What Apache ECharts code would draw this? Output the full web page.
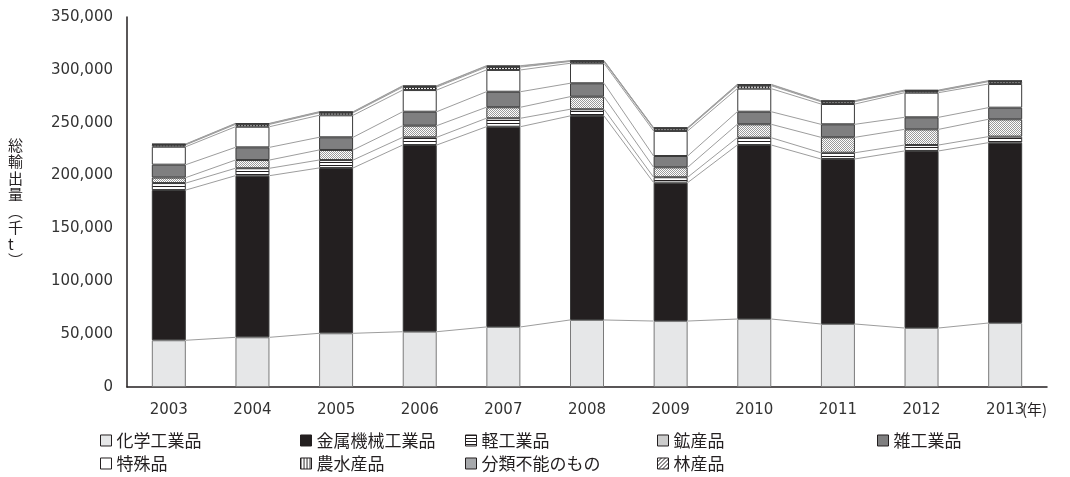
<!DOCTYPE html>
<html><head><meta charset="utf-8">
<script src="https://cdn.jsdelivr.net/npm/echarts@6/dist/echarts.min.js"></script>
<style>html,body{margin:0;padding:0;background:#fff}#c{width:1070px;height:477px}</style>
</head><body><div id="c"></div>
<script>
const years = ['2003','2004','2005','2006','2007','2008','2009','2010','2011','2012','2013'];
const yTicks = [0, 50000, 100000, 150000, 200000, 250000, 300000, 350000];
const names = ['化学工業品','金属機械工業品','軽工業品','鉱産品','雑工業品','特殊品','農水産品','分類不能のもの','林産品'];
const chem    = [44200, 47000, 50800, 52300, 56800, 63400, 62400, 64300, 59600, 55800, 60500];
const metal   = [142100,152900,156400,176600,189400,193000,130900,164600,156100,167500,170600];
const light   = [6600, 7000, 7500, 7300, 8000, 6300, 5100, 6900, 5900, 5600, 5700];
const mineral = [5200, 7800, 9500, 11000, 10400, 11900, 9400, 12700, 14600, 14800, 16400];
const misc    = [12200, 12000, 12000, 13200, 14700, 12700, 10700, 11900, 12300, 11400, 11000];
const special = [17000, 19500, 20800, 20500, 20600, 18900, 23700, 21800, 19200, 23300, 22400];
const agri    = [1800, 2200, 2400, 2800, 2700, 1700, 2200, 2800, 2200, 1500, 2200];
const unclass = [500, 600, 600, 800, 800, 500, 600, 800, 600, 500, 600];
const forest  = [300, 400, 400, 500, 500, 300, 300, 500, 300, 500, 300];

const INK = '#231f20';
function pat(w, h, draw){
  const c = document.createElement('canvas'); c.width = w; c.height = h;
  const g = c.getContext('2d'); g.fillStyle = '#fff'; g.fillRect(0,0,w,h);
  draw(g); return {image: c, repeat: 'repeat'};
}
const hStripe = pat(4, 3, g => { g.fillStyle = INK; g.fillRect(0,0,4,1); });
const dots = pat(2, 2, g => { g.fillStyle = '#9a9a9a'; g.fillRect(0,0,1,1); g.fillRect(1,1,1,1); });
const vStripe = pat(3, 4, g => { g.fillStyle = INK; g.fillRect(0,0,1,4); });
const diag = pat(4, 4, g => { g.fillStyle = INK; for (let i=0;i<4;i++) g.fillRect(3-i,i,1,1); });

const values = [chem, metal, light, mineral, misc, special, agri, unclass, forest];
const fills = ['#e6e7e8', INK, hStripe, dots, '#7f7f80', '#ffffff', vStripe, '#a7a9ac', diag];

const BW = 34;
const cum = [];
let run = years.map(() => 0);
values.forEach(arr => { run = run.map((v, i) => v + arr[i]); cum.push(run.slice()); });
const lineData = [];
cum.forEach(c => { for (let i = 0; i < years.length - 1; i++) lineData.push([i, c[i], c[i+1]]); });

const series = values.map((arr, k) => ({
  name: names[k], type: 'bar', stack: 'total', barWidth: BW, data: arr,
  itemStyle: { color: fills[k], borderColor: k === 0 ? '#7a7a7a' : '#3a3a3a', borderWidth: 1 },
  emphasis: { disabled: true }
}));
series.push({
  type: 'custom', silent: true, z: 1,
  renderItem(params, api){
    const i = api.value(0);
    const p1 = api.coord([i, api.value(1)]);
    const p2 = api.coord([i + 1, api.value(2)]);
    return { type: 'line', shape: { x1: p1[0] + BW/2, y1: p1[1], x2: p2[0] - BW/2, y2: p2[1] },
      style: { stroke: '#9d9d9d', lineWidth: 1 } };
  },
  encode: { x: 0, y: [1, 2] }, data: lineData
});

const legendPos = [[100,432],[300,432],[465,432],[657,432],[877,432],[100,455],[300,455],[465,455],[657,455]];
const legends = names.map((n, k) => ({
  data: [{ name: n, icon: 'rect' }], left: legendPos[k][0], top: legendPos[k][1],
  itemWidth: 11, itemHeight: 11, padding: 0, selectedMode: false,
  itemStyle: { borderColor: INK, borderWidth: 1 },
  textStyle: { fontFamily: 'Noto Sans CJK JP', fontSize: 17, color: INK, padding: [0,0,0,0] }
}));

const chart = echarts.init(document.getElementById('c'));
chart.setOption({
  animation: false,
  backgroundColor: '#fff',
  grid: { left: 127, right: 23, top: 17, bottom: 90 },
  legend: legends,
  xAxis: {
    type: 'category', data: years,
    axisLine: { lineStyle: { color: INK, width: 1.5 } },
    axisTick: { show: false },
    axisLabel: { fontFamily: 'DejaVu Sans', fontSize: 15, color: '#333', margin: 16 }
  },
  yAxis: {
    type: 'value', min: 0, max: 350000, interval: 50000,
    axisLine: { show: true, lineStyle: { color: INK, width: 1.5 } },
    axisTick: { show: false }, splitLine: { show: false },
    axisLabel: { fontFamily: 'DejaVu Sans', fontSize: 15, color: '#333', margin: 14,
      formatter: v => yTicks.includes(v) ? v.toLocaleString('en-US') : '' }
  },
  graphic: [
    { type: 'text', left: 1022, top: 402, style: { text: '(年)', fontFamily: 'Noto Sans CJK JP', fontSize: 15, fill: INK } },
    { type: 'text', left: 8, top: 137, style: { text: '総\n輸\n出\n量\n︵\n千\nt\n︶', fontFamily: 'Noto Sans CJK JP', fontSize: 15, lineHeight: 16.5, fill: INK, align: 'center' } }
  ],
  series
});
</script></body></html>
